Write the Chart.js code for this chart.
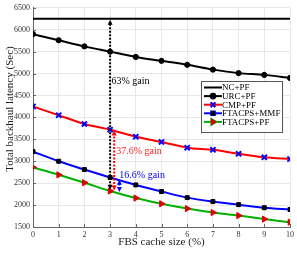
<!DOCTYPE html>
<html>
<head>
<meta charset="utf-8">
<script src="https://cdn.jsdelivr.net/npm/chart.js@4/dist/chart.umd.min.js"></script>
<style>
  html, body { margin: 0; padding: 0; background: #fff; }
  #wrap { width: 297px; height: 254px; }
</style>
</head>
<body>
<div id="wrap"><canvas id="grafico" width="297" height="254"></canvas></div>
<script>
// datos
const cacheSize = [0, 1, 2, 3, 4, 5, 6, 7, 8, 9, 10];
const ncPF = [6250, 6250, 6250, 6250, 6250, 6250, 6250, 6250, 6250, 6250, 6250];
const urcPF = [5900, 5760, 5620, 5500, 5380, 5290, 5200, 5090, 5010, 4970, 4900];
const cmpPF = [4250, 4050, 3850, 3720, 3560, 3440, 3310, 3260, 3170, 3090, 3050];
const ftacpsMMF = [3220, 3000, 2810, 2630, 2460, 2310, 2170, 2080, 2010, 1940, 1900];
const ftacpsPF = [2860, 2690, 2510, 2320, 2160, 2030, 1920, 1830, 1760, 1680, 1610];

// flechas de ganancia: [x, yDesde, yHasta]
const flechas = [
  { x: 3.0, y0: 2350, y1: 6225, color: '#000000' },
  { x: 3.16, y0: 2330, y1: 3700, color: '#ff0000' },
  { x: 3.36, y0: 2300, y1: 2580, color: '#0000ff' }
];
const textos = [
  { x: 3.05, y: 4820, texto: '63% gain', color: '#000000' },
  { x: 3.24, y: 3215, texto: '37.6% gain', color: '#ff2020' },
  { x: 3.36, y: 2670, texto: '16.6% gain', color: '#0000ff' }
];

const serif = "'Liberation Serif', 'DejaVu Serif', serif";

function serie(label, data, linea, punto, estilo, radio, rot) {
  return {
    label: label,
    data: cacheSize.map((x, i) => ({ x: x, y: data[i] })),
    borderColor: linea,
    backgroundColor: punto,
    pointBorderColor: punto,
    pointBackgroundColor: punto,
    pointStyle: estilo,
    pointRadius: radio,
    pointRotation: rot || 0,
    pointBorderWidth: estilo === 'crossRot' ? 2 : 1,
    borderWidth: 2,
    tension: 0.3,
    fill: false
  };
}

const series = [
  serie('NC+PF', ncPF, '#000000', '#000000', false, 0),
  serie('URC+PF', urcPF, '#000000', '#000000', 'circle', 2.6),
  serie('CMP+PF', cmpPF, '#ff0000', '#0000ff', 'crossRot', 3.6),
  serie('FTACPS+MMF', ftacpsMMF, '#0000ff', '#000000', 'rect', 2.8),
  serie('FTACPS+PF', ftacpsPF, '#00b000', '#e00000', 'triangle', 3.6, 90)
];

const anotaciones = {
  id: 'anotaciones',
  afterDatasetsDraw(chart) {
    const c = chart.ctx;
    const xs = chart.scales.x, ys = chart.scales.y;
    const area = chart.chartArea;
    c.save();
    // marcas de eje hacia dentro
    c.strokeStyle = '#666';
    c.lineWidth = 1;
    xs.ticks.forEach(t => {
      const px = Math.round(xs.getPixelForValue(t.value)) + 0.5;
      c.beginPath(); c.moveTo(px, area.bottom); c.lineTo(px, area.bottom - 3); c.stroke();
    });
    ys.ticks.forEach(t => {
      const py = Math.round(ys.getPixelForValue(t.value)) + 0.5;
      c.beginPath(); c.moveTo(area.left, py); c.lineTo(area.left + 3, py); c.stroke();
    });

    // titulo del eje y
    c.save();
    c.translate(10, 109);
    c.rotate(-Math.PI / 2);
    c.font = '11px ' + serif;
    c.fillStyle = '#222';
    c.textAlign = 'center';
    c.textBaseline = 'middle';
    c.fillText('Total backhaul latency (Sec)', 0, 0);
    c.restore();

    flechas.forEach(f => {
      const px = xs.getPixelForValue(f.x);
      const pa = ys.getPixelForValue(f.y0);
      const pb = ys.getPixelForValue(f.y1);
      c.strokeStyle = f.color;
      c.fillStyle = f.color;
      c.lineWidth = 2;
      c.setLineDash([2, 1.5]);
      c.beginPath();
      c.moveTo(px, pa - 3);
      c.lineTo(px, pb + 4);
      c.stroke();
      c.setLineDash([]);
      // punta arriba
      c.beginPath();
      c.moveTo(px, pb);
      c.lineTo(px - 2.5, pb + 5);
      c.lineTo(px + 2.5, pb + 5);
      c.closePath();
      c.fill();
      // punta abajo
      c.beginPath();
      c.moveTo(px, pa);
      c.lineTo(px - 2.5, pa - 5);
      c.lineTo(px + 2.5, pa - 5);
      c.closePath();
      c.fill();
    });
    c.font = '10px ' + serif;
    c.textBaseline = 'middle';
    textos.forEach(t => {
      c.fillStyle = t.color;
      c.fillText(t.texto, xs.getPixelForValue(t.x), ys.getPixelForValue(t.y));
    });

    // leyenda
    const lx = 201, ly = 81, lw = 81, lh = 51;
    c.fillStyle = '#fff';
    c.fillRect(lx, ly, lw, lh);
    c.strokeStyle = '#555';
    c.lineWidth = 1;
    c.strokeRect(lx + 0.5, ly + 0.5, lw, lh);
    c.font = '9px ' + serif;
    series.forEach((s, i) => {
      const cy = ly + 6.5 + i * 8.6;
      c.strokeStyle = s.borderColor;
      c.lineWidth = 2;
      c.beginPath();
      c.moveTo(lx + 3, cy);
      c.lineTo(lx + 21, cy);
      c.stroke();
      if (s.pointStyle) {
        Chart.helpers.drawPoint(c, {
          pointStyle: s.pointStyle,
          radius: s.pointRadius * 0.9,
          rotation: s.pointRotation,
          borderWidth: s.pointBorderWidth
        }, lx + 12, cy);
        c.fillStyle = s.pointBackgroundColor;
        c.strokeStyle = s.pointBorderColor;
        c.lineWidth = s.pointBorderWidth;
        c.fill();
        c.stroke();
      }
      c.fillStyle = '#000';
      c.textBaseline = 'middle';
      c.fillText(s.label, lx + 21, cy + 0.5);
    });
    c.restore();
  }
};

new Chart(document.getElementById('grafico').getContext('2d'), {
  type: 'line',
  data: { datasets: series },
  plugins: [anotaciones],
  options: {
    responsive: false,
    animation: false,
    layout: { padding: { top: 5, right: 5, left: 0, bottom: 5 } },
    plugins: { legend: { display: false }, tooltip: { enabled: false } },
    scales: {
      x: {
        type: 'linear',
        min: 0,
        max: 10,
        ticks: { stepSize: 1, color: '#333', font: { family: serif, size: 8 }, padding: 3, callback: v => String(v) },
        grid: { color: '#e8e8e8', tickLength: 0 },
        border: { color: '#666', width: 1 },
        title: { display: true, text: 'FBS cache size (%)', color: '#222', font: { family: serif, size: 11 }, padding: { top: 0, bottom: 0 } },
        afterFit(scale) { scale.height = 22; }
      },
      y: {
        min: 1500,
        max: 6500,
        ticks: { stepSize: 500, color: '#333', font: { family: serif, size: 8 }, padding: 3, callback: v => String(v) },
        grid: { color: '#e8e8e8', tickLength: 0 },
        border: { color: '#666', width: 1 },
        title: { display: false },
        afterFit(scale) { scale.width = 33; }
      }
    }
  }
});
</script>
</body>
</html>
